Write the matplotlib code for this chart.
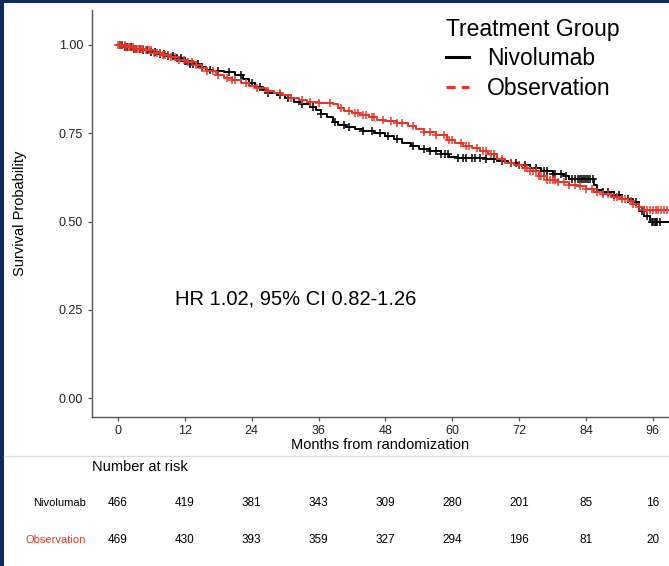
import numpy as np
import matplotlib
matplotlib.use("Agg")
import matplotlib.pyplot as plt
from matplotlib.lines import Line2D
from matplotlib.patches import Rectangle
from matplotlib.transforms import blended_transform_factory

plt.rcParams['font.family'] = ['Liberation Sans', 'DejaVu Sans']

# --- KM step data (months, survival) ---
niv_t = [0, 1, 2.5, 4, 5.5, 7, 8.5, 10, 11.5, 13, 14.5, 15.8, 17, 19, 21, 22.5, 23.5,
         24.5, 25.8, 27, 28.5, 30, 31.5, 33, 34.5, 35.5, 36.5, 37.5, 38.5, 39.5, 41,
         42.5, 44, 46, 48, 49.5, 51, 52.5, 54, 56, 58, 59.5, 61, 66, 68, 70, 72, 74, 76,
         78, 80, 81, 85.5, 86, 87, 89, 90.5, 92.5, 93.5, 94.5, 95.5]
niv_s = [1.0, 0.995, 0.99, 0.985, 0.98, 0.975, 0.97, 0.962, 0.955, 0.947, 0.937, 0.93,
         0.927, 0.924, 0.916, 0.905, 0.893, 0.88, 0.872, 0.865, 0.858, 0.85, 0.838, 0.832,
         0.825, 0.815, 0.805, 0.795, 0.783, 0.774, 0.768, 0.763, 0.757, 0.75, 0.743,
         0.735, 0.722, 0.713, 0.706, 0.7, 0.692, 0.684, 0.679, 0.677, 0.672, 0.666, 0.66,
         0.652, 0.643, 0.635, 0.628, 0.62, 0.605, 0.59, 0.585, 0.575, 0.564, 0.555, 0.53,
         0.515, 0.5]

obs_t = [0, 1.5, 3, 5, 6.5, 8, 9.5, 11, 12.5, 14, 15, 16, 17.5, 19, 20.5, 22, 23.5, 25,
         26.5, 28, 29.5, 31, 32.5, 34, 36, 38.5, 39.5, 40.5, 42, 43.5, 45, 46.5, 48, 50,
         52, 53.5, 55, 57, 59, 60.5, 62, 63.5, 65, 66.5, 68, 69.5, 71, 72.5, 74, 75.5, 77,
         79, 81, 82.5, 84, 85.5, 87, 88.5, 90, 91.5, 92.5, 93.5, 94.5]
obs_s = [1.0, 0.995, 0.99, 0.985, 0.978, 0.972, 0.965, 0.958, 0.952, 0.944, 0.935, 0.925,
         0.915, 0.906, 0.9, 0.892, 0.884, 0.877, 0.87, 0.864, 0.857, 0.85, 0.844, 0.84,
         0.837, 0.832, 0.822, 0.812, 0.807, 0.802, 0.797, 0.789, 0.784, 0.778, 0.77, 0.762,
         0.755, 0.745, 0.73, 0.722, 0.715, 0.708, 0.699, 0.69, 0.678, 0.667, 0.66, 0.652,
         0.642, 0.628, 0.619, 0.612, 0.605, 0.6, 0.592, 0.585, 0.578, 0.571, 0.565, 0.558,
         0.55, 0.54, 0.532]

last_followup = 99.5

niv_cens = [0.3, 0.8, 1.2, 1.7, 2.3, 2.8, 3.3, 3.9, 4.5, 5.2, 6, 6.7, 7.5, 8.2, 9, 9.8,
            10.5, 11.3, 12, 13, 13.5, 14.3, 15, 16.5, 18, 20, 22, 24, 25.5, 27, 29, 30.5,
            33, 35, 36.5, 39, 40.5, 41.5, 44, 45.5, 47, 48.5, 50, 53, 55, 56, 57, 58,
            58.7, 59.3, 61, 62, 62.5, 63.5, 64, 65, 66, 67.5, 69, 70.5, 71.5, 72, 73, 74,
            75, 76.5, 77, 78, 78.5, 79.5, 80.5, 81.5, 82, 82.5, 83, 83.2, 83.6, 84, 84.4,
            84.8, 85.3, 87, 88, 89, 90, 91.5, 93, 94, 95, 95.8, 96.1, 96.3, 96.6, 96.8,
            97.2]
obs_cens = [0, 0.4, 0.8, 1.2, 1.5, 1.9, 2.2, 2.6, 3, 3.4, 3.8, 4.2, 4.5, 5, 5.5, 6, 6.5,
            7, 7.5, 8, 8.5, 9, 9.5, 10.3, 11, 11.8, 12.5, 13.3, 14, 15, 16, 17, 18,
            19.5, 20.5, 21, 23, 25, 27, 29, 31, 33, 34.5, 36, 38, 40, 41.5, 42.5, 43, 44,
            44.5, 45.5, 46, 47.5, 49, 50, 51, 53, 55, 56, 57, 58.5, 59.5, 60, 61.5, 62.5,
            63, 64.5, 65.5, 66, 67, 67.5, 69, 70.5, 72, 73, 73.5, 74, 74.5, 75, 75.5, 76,
            76.5, 77, 77.5, 78, 78.5, 79, 80, 81, 82, 83, 84, 85, 86, 87, 88, 89, 89.5,
            90.5, 91, 92, 92.5, 93.5, 94.5, 95, 95.5, 96, 96.5, 97, 97.5, 98, 98.5]

# number at risk table
risk_times = [0, 12, 24, 36, 48, 60, 72, 84, 96]
niv_risk = [466, 419, 381, 343, 309, 280, 201, 85, 16]
obs_risk = [469, 430, 393, 359, 327, 294, 196, 81, 20]

groups = ["Nivolumab", "Observation"]
colors = ["#000000", "#E8352A"]

W, H = 669, 566
fig = plt.figure(figsize=(W / 100, H / 100), dpi=100)
ax = fig.add_axes([92 / W, 1 - 417 / H, 1 - 92 / W, (417 - 10) / H])


def step_value(ts, ss, c):
    i = np.searchsorted(ts, c, side='right') - 1
    return np.array(ss)[i]


for t, s, cens, col in [(niv_t, niv_s, niv_cens, colors[0]),
                        (obs_t, obs_s, obs_cens, colors[1])]:
    tt = list(t) + [last_followup]
    sss = list(s) + [s[-1]]
    ax.plot(tt, sss, drawstyle='steps-post', color=col, lw=1.4)
    ax.plot(cens, step_value(t, s, cens), ls='none', marker='+', ms=6,
            mew=1.1, color=col)

ax.set_xlim(-4.67, 98.9)
ax.set_ylim(-0.053, 1.099)
ax.set_xticks(risk_times)
ax.set_yticks([0, 0.25, 0.5, 0.75, 1.0])
ax.set_yticklabels(["0.00", "0.25", "0.50", "0.75", "1.00"])
ax.tick_params(labelsize=9, colors='#555555', labelcolor='#222222', length=3, width=0.9)
ax.tick_params(axis='x', pad=2.5)
ax.spines['top'].set_visible(False)
ax.spines['right'].set_visible(False)
for sp in ['left', 'bottom']:
    ax.spines[sp].set_color('#555555')
    ax.spines[sp].set_linewidth(1.0)
ax.set_xlabel("Months from randomization", fontsize=10.5, labelpad=1)
ax.set_ylabel("Survival Probability", fontsize=10.5, labelpad=23)

ax.text(10.2, 0.282, "HR 1.02, 95% CI 0.82-1.26", fontsize=14.5, va='center', ha='left')

# legend
handles = [Line2D([], [], color=colors[0], lw=2.2),
           Line2D([], [], color=colors[1], lw=2.2, dashes=(3, 2))]
leg = fig.legend(handles, groups, title="Treatment Group", loc='upper left',
                 bbox_to_anchor=(446 / W, 1 - 18 / H), frameon=False, fontsize=16.5,
                 title_fontsize=16.5, handlelength=1.0, handletextpad=0.8,
                 labelspacing=0.28, borderpad=0, borderaxespad=0, alignment='left')

# risk table
tr = blended_transform_factory(ax.transData, fig.transFigure)
fig.text(92 / W, 1 - 467 / H, "Number at risk", fontsize=10.5, va='center', ha='left')
for row_y, name, col, vals in [(503, groups[0], 'black', niv_risk),
                               (540, groups[1], colors[1], obs_risk)]:
    fig.text(86 / W, 1 - row_y / H, name, fontsize=8, color=col, ha='right', va='center')
    for t, v in zip(risk_times, vals):
        fig.text(t, 1 - row_y / H, str(v), transform=tr, fontsize=8.5, ha='center', va='center')

# separator and navy frame
fig.add_artist(Line2D([4 / W, 1], [1 - 456 / H] * 2, color='#dcdce8', lw=1))
fig.add_artist(Rectangle((0, 0), 4 / W, 1, color='#0c2a5c', lw=0))
fig.add_artist(Rectangle((0, 1 - 3 / H), 1, 3 / H, color='#0c2a5c', lw=0))

fig.savefig("out.png", dpi=100)
